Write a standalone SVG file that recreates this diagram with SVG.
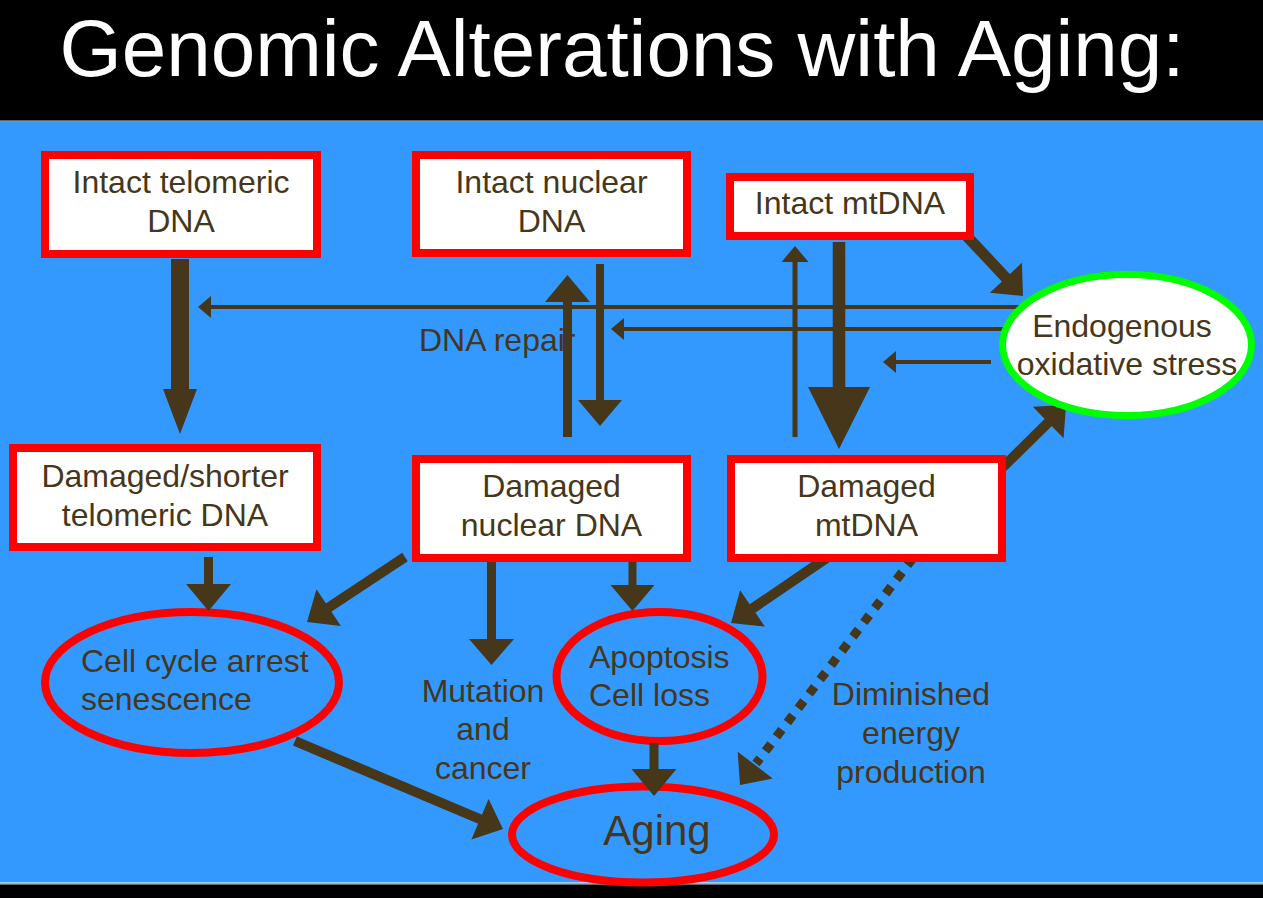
<svg xmlns="http://www.w3.org/2000/svg" width="1263" height="898" viewBox="0 0 1263 898">
  <style>
    .title { font-family: "Liberation Sans", Arial, sans-serif; font-size: 80px; fill: #ffffff; }
    .lbl { font-family: "Liberation Sans", Arial, sans-serif; font-size: 32px; fill: #46361a; }
    .big { font-size: 42px; }
    .mid { text-anchor: middle; }
    .box { fill: #ffffff; stroke: #ff0000; stroke-width: 8; }
    .oval { fill: none; stroke: #ff0000; stroke-width: 8; }
    .stress { fill: #ffffff; stroke: #00ff00; stroke-width: 7; }
    .shaft { stroke: #46361a; fill: none; }
    .head { fill: #46361a; }
  </style>

  <!-- backdrop -->
  <rect x="0" y="0" width="1263" height="898" fill="#000000"/>
  <rect x="0" y="120.5" width="1263" height="1.2" fill="#c8c8c8"/>
  <rect x="0" y="122" width="1263" height="761" fill="#3399ff"/>
  <rect x="0" y="882.5" width="1263" height="1.2" fill="#ffffff"/>
  <rect x="0" y="883.7" width="1263" height="1" fill="#9a9a9a"/>

  <text class="title mid" x="622" y="76">Genomic Alterations with Aging:</text>

  <!-- label sitting under the repair arrows -->
  <text id="dna-repair" class="lbl" x="419" y="351">DNA repair</text>

  <!-- outcome outlines sit under the arrowheads that touch them -->
  <g id="cell-cycle-arrest">
    <ellipse class="oval" cx="192" cy="682.5" rx="147" ry="70.5"/>
    <text class="lbl" x="81" y="672">Cell cycle arrest</text>
    <text class="lbl" x="81" y="710">senescence</text>
  </g>

  <g id="apoptosis">
    <ellipse class="oval" cx="659.5" cy="676.5" rx="103" ry="64.5"/>
    <text class="lbl" x="589" y="668">Apoptosis</text>
    <text class="lbl" x="589" y="706">Cell loss</text>
  </g>

  <g id="aging">
    <ellipse class="oval" cx="643" cy="834.5" rx="131" ry="48"/>
    <text class="lbl big mid" x="657" y="845">Aging</text>
  </g>

  <g id="connectors">
    <!-- intact telomeric -> damaged telomeric -->
    <line class="shaft" x1="180" y1="259" x2="180" y2="391" stroke-width="18"/>
    <polygon class="head" points="163,389 197,389 180,434"/>

    <!-- oxidative stress feedback lines -->
    <line class="shaft" x1="1022" y1="307" x2="209" y2="307" stroke-width="4"/>
    <polygon class="head" points="211,296 211,318 198,307"/>
    <line class="shaft" x1="1004" y1="329" x2="622" y2="329" stroke-width="4"/>
    <polygon class="head" points="624,318 624,340 611,329"/>
    <line class="shaft" x1="991" y1="362" x2="894" y2="362" stroke-width="4"/>
    <polygon class="head" points="896,351 896,373 883,362"/>

    <!-- nuclear DNA repair (up) and damage (down) -->
    <line class="shaft" x1="567.5" y1="437" x2="567.5" y2="300" stroke-width="9"/>
    <polygon class="head" points="545,302 590,302 567.5,275"/>
    <line class="shaft" x1="600" y1="264" x2="600" y2="402" stroke-width="8"/>
    <polygon class="head" points="578,400 622,400 600,426"/>

    <!-- mtDNA repair (up) and damage (down) -->
    <line class="shaft" x1="795" y1="437" x2="795" y2="260" stroke-width="5"/>
    <polygon class="head" points="781.5,262 808.5,262 795,246"/>
    <line class="shaft" x1="839" y1="242" x2="839" y2="390" stroke-width="12.5"/>
    <polygon class="head" points="808,387 870,387 839,449"/>

    <!-- mtDNA <-> oxidative stress -->
    <line class="shaft" x1="962" y1="231" x2="1007.3" y2="279.3" stroke-width="11"/>
    <polygon class="head" points="989.9,292.8 1021.9,262.8 1023,296"/>
    <line class="shaft" x1="1002" y1="468" x2="1049.6" y2="421.1" stroke-width="10"/>
    <polygon class="head" points="1063.6,438.2 1032.8,406.8 1066,405"/>

    <!-- damaged telomeric -> cell cycle arrest -->
    <line class="shaft" x1="208.5" y1="557" x2="208.5" y2="586" stroke-width="9"/>
    <polygon class="head" points="186,584 231,584 208.5,611"/>

    <!-- damaged nuclear DNA outputs -->
    <line class="shaft" x1="405" y1="557" x2="327" y2="608.7" stroke-width="10"/>
    <polygon class="head" points="340.9,625.9 316.5,589.3 307,622"/>
    <line class="shaft" x1="491.5" y1="557" x2="491.5" y2="641" stroke-width="9"/>
    <polygon class="head" points="469,639 514,639 491.5,665"/>
    <line class="shaft" x1="632.5" y1="557" x2="632.5" y2="587" stroke-width="8"/>
    <polygon class="head" points="610.5,585 654.5,585 632.5,611"/>

    <!-- damaged mtDNA outputs -->
    <line class="shaft" x1="828" y1="557" x2="751" y2="609.5" stroke-width="10"/>
    <polygon class="head" points="764.9,626.6 740.1,590.2 731,623"/>
    <line class="shaft" x1="913" y1="558" x2="756" y2="763.5" stroke-width="9" stroke-dasharray="9 9"/>
    <polygon class="head" points="772.7,778.5 737.7,751.7 740,785"/>

    <!-- into aging -->
    <line class="shaft" x1="295" y1="741" x2="482" y2="820" stroke-width="10"/>
    <polygon class="head" points="471.4,839.6 488.6,799 503,829"/>
    <line class="shaft" x1="654" y1="743" x2="654" y2="771" stroke-width="9"/>
    <polygon class="head" points="631.5,769 676.5,769 654,796"/>
  </g>

  <g id="intact-telomeric">
    <rect class="box" x="45" y="155" width="272" height="99"/>
    <text class="lbl mid" x="181" y="193">Intact telomeric</text>
    <text class="lbl mid" x="181" y="232">DNA</text>
  </g>

  <g id="intact-nuclear">
    <rect class="box" x="416" y="155" width="271" height="98"/>
    <text class="lbl mid" x="551.5" y="193">Intact nuclear</text>
    <text class="lbl mid" x="551.5" y="232">DNA</text>
  </g>

  <g id="intact-mtdna">
    <rect class="box" x="730" y="177" width="240" height="59"/>
    <text class="lbl mid" x="850" y="214">Intact mtDNA</text>
  </g>

  <g id="oxidative-stress">
    <ellipse class="stress" cx="1127" cy="345" rx="124.5" ry="70.5"/>
    <text class="lbl mid" x="1122" y="337">Endogenous</text>
    <text class="lbl mid" x="1127" y="375">oxidative stress</text>
  </g>

  <g id="damaged-telomeric">
    <rect class="box" x="13" y="448" width="304" height="99"/>
    <text class="lbl mid" x="165" y="487">Damaged/shorter</text>
    <text class="lbl mid" x="165" y="526">telomeric DNA</text>
  </g>

  <g id="damaged-nuclear">
    <rect class="box" x="416" y="459" width="271" height="99"/>
    <text class="lbl mid" x="551.5" y="497">Damaged</text>
    <text class="lbl mid" x="551.5" y="536">nuclear DNA</text>
  </g>

  <g id="damaged-mtdna">
    <rect class="box" x="731" y="459" width="271" height="99"/>
    <text class="lbl mid" x="866.5" y="497">Damaged</text>
    <text class="lbl mid" x="866.5" y="536">mtDNA</text>
  </g>

  <g id="mutation">
    <text class="lbl mid" x="483" y="702">Mutation</text>
    <text class="lbl mid" x="483" y="740">and</text>
    <text class="lbl mid" x="483" y="779">cancer</text>
  </g>

  <g id="energy">
    <text class="lbl mid" x="911" y="705">Diminished</text>
    <text class="lbl mid" x="911" y="744">energy</text>
    <text class="lbl mid" x="911" y="783">production</text>
  </g>
</svg>
